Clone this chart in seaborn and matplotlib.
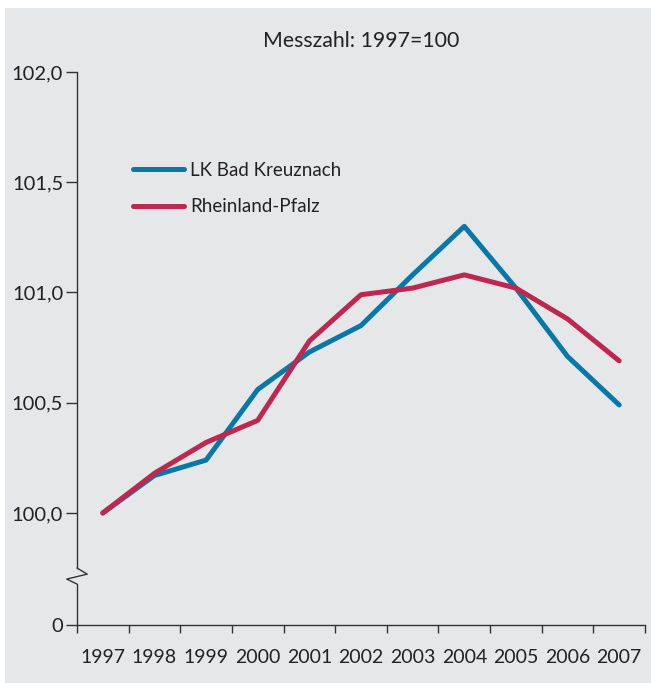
import matplotlib
matplotlib.use("Agg")
import matplotlib.pyplot as plt
import seaborn as sns
import pandas as pd
from matplotlib.patches import Rectangle

# ------------------------------------------------------------
# DATA
# ------------------------------------------------------------

years = [1997, 1998, 1999, 2000, 2001, 2002, 2003, 2004, 2005, 2006, 2007]
kreuznach = [100.00, 100.17, 100.24, 100.56, 100.73, 100.85, 101.08, 101.30, 101.02, 100.71, 100.49]
rlp = [100.00, 100.18, 100.32, 100.42, 100.78, 100.99, 101.02, 101.08, 101.02, 100.88, 100.69]

series_names = ["LK Bad Kreuznach", "Rheinland-Pfalz"]
colors = ["#0a78a6", "#be2850"]

y_ticks = [100.0, 100.5, 101.0, 101.5, 102.0]
y_labels = ["100,0", "100,5", "101,0", "101,5", "102,0"]
y_zero = 99.492   # where the broken axis shows "0"

title = "Messzahl: 1997=100"

df = pd.DataFrame({
    "Jahr": years * 2,
    "Wert": kreuznach + rlp,
    "Gebiet": [series_names[0]] * len(years) + [series_names[1]] * len(years),
})

# ------------------------------------------------------------
# STYLE
# ------------------------------------------------------------

sns.set_style("white")
plt.rcParams["font.family"] = ["Lato", "DejaVu Sans"]

bg = "#e6e7e9"
txt = "#222222"
axc = "#333333"

fig = plt.figure(figsize=(6.51, 6.83), dpi=100, facecolor="white")
fig.patches.append(Rectangle((5 / 651, 0), 1, 1 - 8 / 683,
                             transform=fig.transFigure, facecolor=bg,
                             edgecolor="none", zorder=-10))

ax = fig.add_axes([77 / 651, 58 / 683, (645 - 77) / 651, (625 - 72) / 683])
ax.set_facecolor(bg)

sns.lineplot(data=df, x="Jahr", y="Wert", hue="Gebiet", palette=colors,
             linewidth=3.6, ax=ax, legend=True)

ax.set_xlim(years[0] - 0.5, years[-1] + 0.5)
ax.set_ylim(y_zero, y_ticks[-1])

# x axis: labels at centres, tick marks at boundaries
ax.set_xticks(years)
ax.set_xticklabels([str(y) for y in years], fontsize=14, color=txt)
ax.set_xticks([y - 0.5 for y in years] + [years[-1] + 0.5], minor=True)
ax.tick_params(axis="x", which="major", length=0, pad=17)
ax.tick_params(axis="x", which="minor", length=6, width=1.0, color=axc,
               direction="out", bottom=True)

# y axis
ax.set_yticks([y_zero] + y_ticks)
ax.set_yticklabels(["0"] + y_labels, fontsize=14.5, color=txt)
ax.tick_params(axis="y", length=8, width=1.0, color=axc, direction="out",
               pad=2, left=True)

ax.set_xlabel("")
ax.set_ylabel("")

for s in ["top", "right", "left"]:
    ax.spines[s].set_visible(False)
ax.spines["bottom"].set_color(axc)
ax.spines["bottom"].set_linewidth(1.0)

# left spine with axis break (zigzag)
ax.plot([0, 0], [0, 0.074], transform=ax.transAxes, color=axc, lw=1.0,
        clip_on=False)
ax.plot([0, -0.018, 0.018, 0], [0.074, 0.083, 0.092, 0.103],
        transform=ax.transAxes, color=axc, lw=1.0, clip_on=False)
ax.plot([0, 0], [0.103, 1], transform=ax.transAxes, color=axc, lw=1.0,
        clip_on=False)

# title
fig.text(361 / 651, 1 - 41 / 683, title, ha="center", va="center",
         fontsize=15.3, color=txt)

# legend
leg = ax.legend(loc="upper left", bbox_to_anchor=(133 / 651, 1 - 162 / 683),
                bbox_transform=fig.transFigure, frameon=False, fontsize=13.5,
                handlelength=2.7, handletextpad=0.35, labelspacing=1.02,
                borderpad=0, borderaxespad=0)
for t in leg.get_texts():
    t.set_color(txt)

fig.savefig("out.png", dpi=100, facecolor="white")
